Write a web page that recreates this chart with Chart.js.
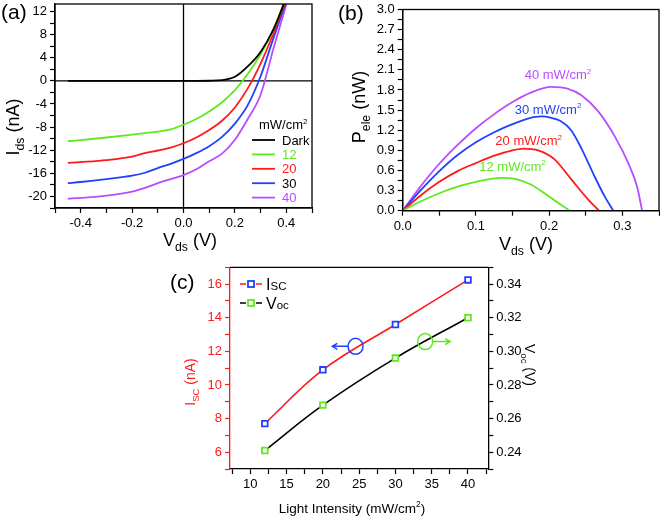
<!DOCTYPE html>
<html>
<head>
<meta charset="utf-8">
<script src="https://cdn.jsdelivr.net/npm/chart.js@4.4.1/dist/chart.umd.min.js"></script>
<style>
  body { margin: 0; background: #fff; }
  #wrap { position: relative; width: 660px; height: 520px; overflow: hidden; }
  canvas { position: absolute; }
</style>
</head>
<body>
<div id="wrap">
  <canvas id="ca" width="330" height="255" style="left:0;top:0"></canvas>
  <canvas id="cb" width="330" height="255" style="left:330px;top:0"></canvas>
  <canvas id="cc" width="430" height="265" style="left:130px;top:255px"></canvas>
</div>
<script>
// (a) I-V curves, Vds in V, Ids in nA
const aV      = [-0.45, -0.4, -0.3, -0.2, -0.15, -0.1, -0.05, 0, 0.05, 0.1, 0.15, 0.2, 0.25, 0.3, 0.35, 0.4];
const aDark   = [0, 0, 0, 0, 0, 0, 0, 0, 0, 0.02, 0.12, 0.7, 2.5, 5.0, 8.9, 14.4];
const aI12    = [-10.45, -10.25, -9.8, -9.3, -9.05, -8.8, -8.4, -7.6, -6.6, -5.3, -3.7, -1.6, 1.2, 4.6, 8.9, 14.6];
const aI20    = [-14.2, -14.05, -13.7, -13.1, -12.5, -12.05, -11.55, -10.8, -9.8, -8.5, -6.9, -4.6, -1.3, 3.0, 8.2, 14.0];
const aI30    = [-17.7, -17.5, -17.0, -16.4, -15.9, -15.1, -14.35, -13.5, -12.5, -11.3, -9.7, -7.4, -4.2, 0.8, 7.4, 13.7];
const aI40    = [-20.4, -20.25, -19.85, -19.15, -18.5, -17.7, -17.0, -16.3, -15.3, -13.9, -12.6, -10.2, -6.6, -2.4, 5.6, 13.2];
const aLegend = ['Dark', '12', '20', '30', '40'];

// (b) electrical power, Vds in V, Pele in nW
const bV12 = [0, 0.025, 0.05, 0.075, 0.1, 0.12, 0.137, 0.155, 0.175, 0.195, 0.212, 0.228];
const bP12 = [0, 0.14, 0.26, 0.36, 0.43, 0.475, 0.49, 0.47, 0.39, 0.25, 0.12, 0];
const bV20 = [0, 0.025, 0.05, 0.075, 0.1, 0.125, 0.15, 0.165, 0.185, 0.207, 0.23, 0.253, 0.268];
const bP20 = [0, 0.23, 0.43, 0.59, 0.71, 0.82, 0.9, 0.925, 0.9, 0.77, 0.47, 0.17, 0];
const bV30 = [0, 0.025, 0.05, 0.075, 0.1, 0.125, 0.15, 0.17, 0.189, 0.203, 0.215, 0.23, 0.244, 0.262, 0.276, 0.2875];
const bP30 = [0, 0.31, 0.59, 0.83, 1.02, 1.17, 1.29, 1.37, 1.405, 1.385, 1.34, 1.2, 0.93, 0.51, 0.21, 0];
const bV40 = [0, 0.025, 0.05, 0.075, 0.1, 0.125, 0.15, 0.175, 0.203, 0.225, 0.244, 0.267, 0.29, 0.308, 0.32, 0.327];
const bP40 = [0, 0.37, 0.70, 0.98, 1.23, 1.44, 1.62, 1.76, 1.845, 1.82, 1.72, 1.48, 1.1, 0.71, 0.36, 0];
const bLabels = ['12', '20', '30', '40'];

// (c) Isc and Voc vs light intensity
const cIntensity = [12, 20, 30, 40];
const cIsc = [7.7, 10.9, 13.6, 16.25];
const cVoc = [0.241, 0.268, 0.296, 0.320];

const FONT = '"Liberation Sans", Arial, sans-serif';
const GREEN = '#5ee81e', RED = '#ff1a1a', BLUE = '#2141ff', PURPLE = '#b84dff';

function pts(xs, ys) {
  return xs.map((x, i) => ({ x: x, y: ys[i] }));
}

// tick marks on every multiple of step inside [min, max]
function tickList(min, max, step) {
  const t = [];
  const first = Math.ceil(min / step - 1e-6);
  for (let k = first; k * step <= max + step * 1e-6; k++) t.push({ value: +(k * step).toFixed(6) });
  return t;
}

function every(major, digits) {
  return function(value) {
    const r = value / major;
    return Math.abs(r - Math.round(r)) < 1e-6 ? value.toFixed(digits) : '';
  };
}

// text with subscripts / superscripts; parts = [[text, kind]]
function rich(ctx, parts, x, y, size, color, align) {
  const spec = k => k === 'sub' ? [size * 0.68, size * 0.28]
    : k === 'sup' ? [size * 0.62, -size * 0.42]
    : k === 'small' ? [size * 0.72, 0] : [size, 0];
  ctx.save();
  ctx.fillStyle = color;
  ctx.textAlign = 'left';
  ctx.textBaseline = 'alphabetic';
  let w = 0;
  parts.forEach(p => { ctx.font = spec(p[1])[0] + 'px ' + FONT; w += ctx.measureText(p[0]).width; });
  let cx = align === 'center' ? x - w / 2 : align === 'right' ? x - w : x;
  parts.forEach(p => {
    const s = spec(p[1]);
    ctx.font = s[0] + 'px ' + FONT;
    ctx.fillText(p[0], cx, y + s[1]);
    cx += ctx.measureText(p[0]).width;
  });
  ctx.restore();
}

function rotated(ctx, parts, x, y, size, color, angle) {
  ctx.save();
  ctx.translate(x, y);
  ctx.rotate(angle);
  rich(ctx, parts, 0, size * 0.35, size, color, 'center');
  ctx.restore();
}

function axisOpts(min, max, step, major, digits, size, color) {
  return {
    type: 'linear', min: min, max: max,
    afterBuildTicks: s => { s.ticks = tickList(min, max, step); },
    afterFit: s => {
      if (s.isHorizontal()) { s.height = size; s.paddingLeft = 0; s.paddingRight = 0; }
      else { s.width = size; s.paddingTop = 0; s.paddingBottom = 0; }
    },
    ticks: { callback: every(major, digits), color: color || '#000', font: { family: FONT, size: 13 }, padding: 3, maxRotation: 0, autoSkip: false },
    grid: { drawOnChartArea: false, drawTicks: true, tickLength: 5, color: color || '#000', tickWidth: 1.2 },
    border: { display: true, color: color || '#000', width: 1.3 }
  };
}

function curve(xs, ys, color, extra) {
  return Object.assign({
    data: pts(xs, ys), borderColor: color, borderWidth: 1.8, pointRadius: 0,
    cubicInterpolationMode: 'monotone', fill: false
  }, extra || {});
}

function frame(ctx, a) {
  ctx.save();
  ctx.strokeStyle = '#000';
  ctx.lineWidth = 1.3;
  ctx.strokeRect(a.left, a.top, a.right - a.left, a.bottom - a.top);
  ctx.restore();
}

const base = {
  responsive: false, animation: false, events: [],
  plugins: { legend: { display: false }, tooltip: { enabled: false } }
};

// ---------- (a) ----------
new Chart(document.getElementById('ca'), {
  type: 'line',
  data: {
    datasets: [
      curve(aV, aDark, '#000'),
      curve(aV, aI12, GREEN),
      curve(aV, aI20, RED),
      curve(aV, aI30, BLUE),
      curve(aV, aI40, PURPLE)
    ]
  },
  options: Object.assign({}, base, {
    layout: { padding: { top: 4, right: 18, left: 0, bottom: 0 } },
    scales: {
      x: axisOpts(-0.5, 0.5, 0.1, 0.2, 1, 47),
      y: axisOpts(-22, 13.3, 2, 4, 0, 55)
    }
  }),
  plugins: [{
    id: 'decorA',
    beforeDatasetsDraw(chart) {
      const { ctx, chartArea: a, scales } = chart;
      const y0 = scales.y.getPixelForValue(0), x0 = scales.x.getPixelForValue(0);
      ctx.save();
      ctx.strokeStyle = '#000';
      ctx.lineWidth = 1.3;
      ctx.beginPath();
      ctx.moveTo(a.left, y0); ctx.lineTo(a.right, y0);
      ctx.moveTo(x0, a.top); ctx.lineTo(x0, a.bottom);
      ctx.stroke();
      ctx.restore();
    },
    afterDraw(chart) {
      const { ctx, chartArea: a } = chart;
      frame(ctx, a);
      rich(ctx, [['(a)', '']], 1, 19, 21, '#000', 'left');
      rotated(ctx, [['I', ''], ['ds', 'sub'], [' (nA)', '']], 13, 127, 18, '#000', -Math.PI / 2);
      rich(ctx, [['V', ''], ['ds', 'sub'], [' (V)', '']], 190, 246, 18, '#000', 'center');
      // legend
      rich(ctx, [['mW/cm', ''], ['2', 'sup']], 259, 129, 13, '#000', 'left');
      const cols = ['#000', GREEN, RED, BLUE, PURPLE];
      const txt = ['#000', GREEN, RED, '#000', PURPLE];
      aLegend.forEach((lab, i) => {
        const y = 140 + i * 14.4;
        ctx.save();
        ctx.strokeStyle = cols[i];
        ctx.lineWidth = 1.8;
        ctx.beginPath(); ctx.moveTo(252, y); ctx.lineTo(275, y); ctx.stroke();
        ctx.restore();
        rich(ctx, [[lab, '']], 282, y + 4.6, 13, txt[i], 'left');
      });
    }
  }]
});

// ---------- (b) ----------
const zeroTail = (x, color) => curve([x, 0.35], [0, 0], color, { borderDash: [2, 2], borderWidth: 1.4 });
new Chart(document.getElementById('cb'), {
  type: 'line',
  data: {
    datasets: [
      curve(bV12, bP12, GREEN),
      curve(bV20, bP20, RED),
      curve(bV30, bP30, BLUE),
      curve(bV40, bP40, PURPLE),
      zeroTail(0.228, GREEN),
      zeroTail(0.268, RED),
      zeroTail(0.2875, BLUE),
      zeroTail(0.327, PURPLE)
    ]
  },
  options: Object.assign({}, base, {
    layout: { padding: { top: 9.5, right: 1, left: 0, bottom: 0 } },
    scales: {
      x: axisOpts(0, 0.35, 0.05, 0.1, 1, 44.3),
      y: axisOpts(0, 3.0, 0.15, 0.3, 1, 72.7)
    }
  }),
  plugins: [{
    id: 'decorB',
    afterDraw(chart) {
      const { ctx, chartArea: a, scales } = chart;
      frame(ctx, a);
      rich(ctx, [['(b)', '']], 8, 20, 21, '#000', 'left');
      rotated(ctx, [['P', ''], ['ele', 'sub'], [' (nW)', '']], 29, 107, 18, '#000', -Math.PI / 2);
      rich(ctx, [['V', ''], ['ds', 'sub'], [' (V)', '']], 196, 250, 18, '#000', 'center');
      const pos = [[0.150, 0.66, GREEN], [0.172, 1.04, RED], [0.1985, 1.515, BLUE], [0.212, 2.03, PURPLE]];
      bLabels.forEach((lab, i) => {
        const p = pos[i];
        rich(ctx, [[lab + ' mW/cm', ''], ['2', 'sup']],
          scales.x.getPixelForValue(p[0]), scales.y.getPixelForValue(p[1]) + 4.5, 13, p[2], 'center');
      });
    }
  }]
});

// ---------- (c) ----------
new Chart(document.getElementById('cc'), {
  type: 'line',
  data: {
    datasets: [
      curve(cIntensity, cIsc, RED, {
        yAxisID: 'y', pointStyle: 'rect', pointRadius: 4, pointBorderWidth: 1.8,
        pointBorderColor: BLUE, pointBackgroundColor: '#fff', borderWidth: 1.6,
        cubicInterpolationMode: 'default', tension: 0.4
      }),
      curve(cIntensity, cVoc, '#000', {
        yAxisID: 'y2', pointStyle: 'rect', pointRadius: 4, pointBorderWidth: 1.8,
        pointBorderColor: GREEN, pointBackgroundColor: '#fff', borderWidth: 1.6,
        cubicInterpolationMode: 'default', tension: 0.4
      })
    ]
  },
  options: Object.assign({}, base, {
    layout: { padding: { top: 12.3, right: 0, left: 0, bottom: 0 } },
    scales: {
      x: axisOpts(7.2, 42.8, 2.5, 5, 0, 51),
      y: Object.assign(axisOpts(5, 17, 1, 2, 0, 100, RED), { position: 'left' }),
      y2: Object.assign(axisOpts(0.23, 0.35, 0.01, 0.02, 2, 71.7), { position: 'right' })
    }
  }),
  plugins: [{
    id: 'decorC',
    afterDraw(chart) {
      const { ctx, chartArea: a, scales } = chart;
      ctx.save();
      ctx.strokeStyle = '#000';
      ctx.lineWidth = 1.3;
      ctx.beginPath(); ctx.moveTo(a.left, a.top); ctx.lineTo(a.right, a.top); ctx.stroke();
      ctx.restore();
      rich(ctx, [['(c)', '']], 40, 34, 21, '#000', 'left');
      rotated(ctx, [['I', ''], ['SC', 'sub'], [' (nA)', '']], 60, 127, 14, RED, -Math.PI / 2);
      rotated(ctx, [['V', ''], ['oc', 'sub'], [' (V)', '']], 400, 110, 14, '#000', Math.PI / 2);
      rich(ctx, [['Light Intensity (mW/cm', ''], ['2', 'sup'], [')', '']], 222, 258, 13.5, '#000', 'center');

      // legend
      const rows = [[29, RED, BLUE, [['I', ''], ['SC', 'small']]], [48, '#000', GREEN, [['V', ''], ['oc', 'small']]]];
      rows.forEach(r => {
        const y = r[0];
        ctx.save();
        ctx.strokeStyle = r[1];
        ctx.lineWidth = 1.6;
        ctx.beginPath(); ctx.moveTo(110, y); ctx.lineTo(116, y); ctx.moveTo(126, y); ctx.lineTo(132, y); ctx.stroke();
        ctx.strokeStyle = r[2];
        ctx.lineWidth = 1.8;
        ctx.fillStyle = '#fff';
        ctx.fillRect(118, y - 3, 6, 6);
        ctx.strokeRect(118, y - 3, 6, 6);
        ctx.restore();
        rich(ctx, r[3], 136, y + 6, 16, '#000', 'left');
      });

      // circles with arrows pointing to the matching axis
      const mark = (cx, cy, tx, color) => {
        const x = scales.x.getPixelForValue(cx), y = scales.y.getPixelForValue(cy);
        const xe = scales.x.getPixelForValue(tx);
        const dir = Math.sign(xe - x);
        ctx.save();
        ctx.strokeStyle = color;
        ctx.lineWidth = 1.5;
        ctx.beginPath(); ctx.ellipse(x, y, 7.5, 8, 0, 0, Math.PI * 2); ctx.stroke();
        ctx.beginPath();
        ctx.moveTo(x + dir * 7.5, y); ctx.lineTo(xe, y);
        ctx.moveTo(xe - dir * 5, y - 3); ctx.lineTo(xe, y); ctx.lineTo(xe - dir * 5, y + 3);
        ctx.stroke();
        ctx.restore();
      };
      mark(24.5, 12.3, 21.3, BLUE);
      mark(34.1, 12.58, 37.55, GREEN);
    }
  }]
});
</script>
</body>
</html>
